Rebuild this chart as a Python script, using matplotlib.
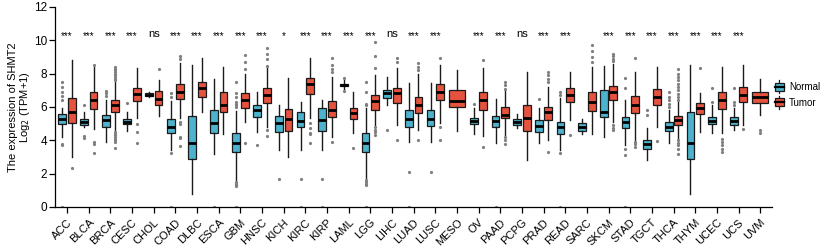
import matplotlib.pyplot as plt
from matplotlib.patches import Patch, Rectangle
from matplotlib.lines import Line2D
from matplotlib.legend_handler import HandlerBase

plt.rcParams['font.family'] = ['Liberation Sans', 'DejaVu Sans']

# cancer types and significance marks
cancers = ["ACC", "BLCA", "BRCA", "CESC", "CHOL", "COAD", "DLBC", "ESCA", "GBM", "HNSC",
           "KICH", "KIRC", "KIRP", "LAML", "LGG", "LIHC", "LUAD", "LUSC", "MESO", "OV",
           "PAAD", "PCPG", "PRAD", "READ", "SARC", "SKCM", "STAD", "TGCT", "THCA", "THYM",
           "UCEC", "UCS", "UVM"]
signif = ["***", "***", "***", "***", "ns", "***", "***", "***", "***", "***",
          "*", "***", "***", "***", "***", "ns", "***", "***", "", "***",
          "***", "ns", "***", "***", "", "***", "***", "***", "***", "***",
          "***", "***", ""]

# Normal: whisker low, q1, median, q3, whisker high (None = no normal samples)
n_low = [4.22, 4.82, 3.92, 4.56, 6.62, 3.42, 0.76, 3.2, 1.62, 4.48,
         3.42, 3.42, 3.42, 7.1, 1.72, 6.12, 3.88, 3.88, None, 4.36,
         3.82, 4.72, 3.82, 3.42, 4.36, 4.22, 3.72, 2.82, 3.82, 0.76,
         4.42, 4.62, None]
n_q1 = [4.98, 4.92, 4.78, 4.96, 6.66, 4.42, 2.88, 4.46, 3.28, 5.42,
        4.48, 4.8, 4.56, 7.24, 3.28, 6.52, 4.82, 4.88, None, 4.96,
        4.82, 4.92, 4.52, 4.38, 4.56, 5.42, 4.72, 3.48, 4.56, 2.88,
        4.96, 4.92, None]
n_med = [5.28, 5.12, 5.22, 5.12, 6.74, 4.82, 3.82, 5.02, 3.82, 5.82,
         5.02, 5.16, 5.22, 7.32, 3.82, 6.82, 5.26, 5.28, None, 5.16,
         5.18, 5.12, 4.88, 4.78, 4.82, 5.72, 5.08, 3.76, 4.82, 3.82,
         5.18, 5.18, None]
n_q3 = [5.6, 5.28, 5.52, 5.28, 6.82, 5.28, 5.48, 5.82, 4.42, 6.12,
        5.46, 5.68, 5.92, 7.4, 4.42, 7.02, 5.82, 5.82, None, 5.36,
        5.48, 5.28, 5.22, 5.12, 5.06, 7.02, 5.42, 4.02, 5.12, 5.68,
        5.42, 5.42, None]
n_high = [5.92, 5.68, 6.42, 5.72, 6.92, 6.36, 8.52, 7.7, 5.75, 6.92,
          6.12, 6.32, 6.42, 7.6, 5.92, 7.82, 7.42, 7.42, None, 5.92,
          6.48, 5.56, 5.96, 6.52, 5.28, 8.48, 6.42, 4.72, 5.82, 8.52,
          6.12, 5.92, None]
n_fliers = [[7.52, 7.22, 6.92, 6.66, 6.42, 3.8, 3.7, 0], [6.12, 4.28, 4.16], [6.98, 6.82, 6.68],
            [6.26], [], [6.82, 6.62, 3.26, 0], [], [0],
            [7.48, 6.82, 6.62, 6.3, 6.2, 6.1, 6.0, 1.5, 1.4, 1.3, 1.25, 0], [3.72],
            [1.66], [1.66, 0], [1.66, 0], [7.72, 6.98],
            [7.52, 6.92, 6.2, 6.1, 1.6, 1.5, 1.4, 1.3, 0], [4.62], [2.12, 0], [2.12], [], [6.16],
            [0], [], [6.48], [6.9, 6.7, 3.22, 0], [], [], [7.72, 7.16, 3.48, 3.12, 0],
            [5.82, 5.52], [6.92, 6.6, 6.4, 6.2, 6.0], [], [7.16, 6.32], [7.12, 6.3, 6.1], []]

# Tumor: whisker low, q1, median, q3, whisker high
t_low = [2.98, 4.68, 4.6, 5.32, 5.48, 5.32, 5.68, 4.4, 5.12, 4.82,
         3.02, 5.32, 4.22, 4.42, 4.92, 4.92, 4.62, 5.02, 4.56, 4.26,
         4.32, 2.82, 4.02, 5.22, 4.36, 5.1, 4.02, 4.82, 4.1, 4.52,
         4.42, 4.92, 5.52]
t_q1 = [5.02, 5.88, 5.68, 6.36, 6.12, 6.48, 6.62, 5.68, 5.96, 6.22,
        4.56, 6.76, 5.42, 5.26, 5.82, 6.22, 5.62, 6.42, 6.02, 5.82,
        5.32, 4.56, 5.22, 6.32, 5.76, 6.42, 5.62, 6.12, 4.92, 5.56,
        5.88, 6.32, 6.26]
t_med = [5.72, 6.42, 6.12, 6.76, 6.48, 6.88, 7.16, 6.12, 6.42, 6.72,
         5.28, 7.36, 5.82, 5.62, 6.36, 6.82, 6.12, 6.92, 6.36, 6.42,
         5.52, 5.36, 5.68, 6.72, 6.32, 6.88, 6.12, 6.62, 5.22, 5.92,
         6.42, 6.72, 6.58]
t_q3 = [6.56, 6.88, 6.42, 7.12, 6.98, 7.36, 7.48, 6.88, 6.82, 7.12,
        5.88, 7.76, 6.36, 5.96, 6.72, 7.12, 6.62, 7.36, 7.02, 6.92,
        6.02, 6.12, 6.02, 7.12, 6.88, 7.28, 6.68, 7.06, 5.48, 6.22,
        6.92, 7.18, 6.88]
t_high = [8.82, 8.42, 7.5, 8.32, 7.62, 8.65, 8.92, 8.4, 7.96, 8.42,
          7.72, 8.92, 7.8, 6.92, 7.92, 8.32, 7.96, 8.52, 8.22, 8.32,
          7.0, 8.12, 7.2, 8.12, 8.42, 8.6, 8.12, 8.42, 6.3, 6.82,
          8.42, 8.52, 7.66]
t_fliers = [[2.36], [8.52, 3.92, 3.78, 3.26],
            [7.6, 7.7, 7.8, 7.9, 8.0, 8.1, 8.2, 8.3, 8.4, 4.5, 4.4, 4.3, 4.2, 4.1, 4.0, 3.9, 3.52],
            [5.0, 4.52, 3.82], [8.26], [9.06, 8.85, 5.12, 4.96, 4.22, 4.12, 3.68], [], [],
            [9.12, 8.68, 8.28, 3.82], [9.56, 9.16, 8.88, 8.48, 4.6, 4.28],
            [], [5.06, 4.76, 4.46, 4.36, 3.82], [8.1, 8.3, 8.5, 8.92, 3.92], [3.56],
            [9.92, 9.06, 8.32, 4.8, 4.6, 4.5, 4.3], [8.92, 8.7, 4.02], [8.62, 8.4, 8.2, 4.02],
            [8.92, 4.82, 4.02], [], [8.82, 3.62],
            [7.5, 7.3, 7.1, 4.2, 4.0, 3.8], [], [8.1, 7.9, 7.7, 7.5, 3.32], [4.32],
            [9.72, 9.36, 9.02, 8.72], [9.2, 9.05, 8.9, 8.75, 4.9, 4.75, 4.6],
            [8.92, 3.9, 3.75, 3.6], [3.98],
            [6.4, 6.6, 6.8, 7.0, 7.2, 7.4, 7.6, 7.8, 8.0, 8.3, 4.0, 3.85, 3.7, 3.5, 3.2],
            [8.36], [4.1, 3.9, 3.7, 3.5, 3.3], [4.66], [4.62, 4.42]]

normal_color = "#4DB3CC"
tumor_color = "#E5533F"

fig = plt.figure(figsize=(8.24, 2.46), dpi=100)
ax = fig.add_axes([0.067, 0.159, 0.87, 0.813])

box_kw = dict(patch_artist=True, showcaps=False,
              boxprops=dict(edgecolor="#1a1a1a", linewidth=0.9),
              medianprops=dict(color="black", linewidth=2.0),
              whiskerprops=dict(color="#1a1a1a", linewidth=1.0),
              flierprops=dict(marker="o", markersize=2.3, markerfacecolor="#7f7f7f",
                              markeredgecolor="none"))

for i in range(len(cancers)):
    t_stats = dict(whislo=t_low[i], q1=t_q1[i], med=t_med[i], q3=t_q3[i],
                   whishi=t_high[i], fliers=t_fliers[i])
    if n_med[i] is None:
        parts = ax.bxp([t_stats], positions=[i], widths=0.72, **box_kw)
        parts["boxes"][0].set_facecolor(tumor_color)
        continue
    n_stats = dict(whislo=n_low[i], q1=n_q1[i], med=n_med[i], q3=n_q3[i],
                   whishi=n_high[i], fliers=n_fliers[i])
    parts = ax.bxp([n_stats, t_stats], positions=[i - 0.22, i + 0.22], widths=0.36, **box_kw)
    parts["boxes"][0].set_facecolor(normal_color)
    parts["boxes"][1].set_facecolor(tumor_color)

for i, s in enumerate(signif):
    if s:
        ax.text(i, 10.35 if s == "ns" else 10.25, s, ha="center", va="center",
                fontsize=8 if s == "ns" else 7)

ax.set_xlim(-0.55, len(cancers) - 0.45)
ax.set_ylim(0, 12)
ax.set_yticks(range(0, 13, 2))
ax.set_xticks(range(len(cancers)))
ax.set_xticklabels(cancers, rotation=45, ha="right", rotation_mode="anchor", fontsize=8)
ax.tick_params(axis="y", labelsize=8.5, length=4, width=0.9, pad=2)
ax.tick_params(axis="x", length=4, width=0.9)
ax.set_ylabel("The expression of SHMT2\nLog$_2$ (TPM+1)", fontsize=8, labelpad=1,
              linespacing=1.05)
ax.spines["top"].set_visible(False)
ax.spines["right"].set_visible(False)
ax.spines["left"].set_linewidth(0.9)
ax.spines["bottom"].set_linewidth(0.9)


class BoxHandler(HandlerBase):
    def create_artists(self, legend, orig_handle, xdescent, ydescent, width, height, fontsize, trans):
        cx = width / 2 - xdescent
        bw = width * 0.9
        bh = height * 1.0
        y0 = -ydescent
        rect = Rectangle((cx - bw / 2, y0), bw, bh, facecolor=orig_handle.get_facecolor(),
                         edgecolor="#1a1a1a", linewidth=0.9, transform=trans)
        med = Line2D([cx - bw / 2, cx + bw / 2], [y0 + bh / 2] * 2, color="black", lw=1.6,
                     transform=trans)
        w1 = Line2D([cx, cx], [y0 + bh, y0 + bh * 1.3], color="#1a1a1a", lw=0.9, transform=trans)
        w2 = Line2D([cx, cx], [y0, y0 - bh * 0.3], color="#1a1a1a", lw=0.9, transform=trans)
        return [w1, w2, rect, med]


handles = [Patch(facecolor=normal_color), Patch(facecolor=tumor_color)]
ax.legend(handles, ["Normal", "Tumor"], handler_map={Patch: BoxHandler()},
          loc="center left", bbox_to_anchor=(0.995, 0.56), frameon=False, fontsize=7,
          handlelength=1.0, handleheight=0.9, handletextpad=0.5, labelspacing=0.55,
          borderaxespad=0.2)

plt.savefig("out.png", dpi=100)
